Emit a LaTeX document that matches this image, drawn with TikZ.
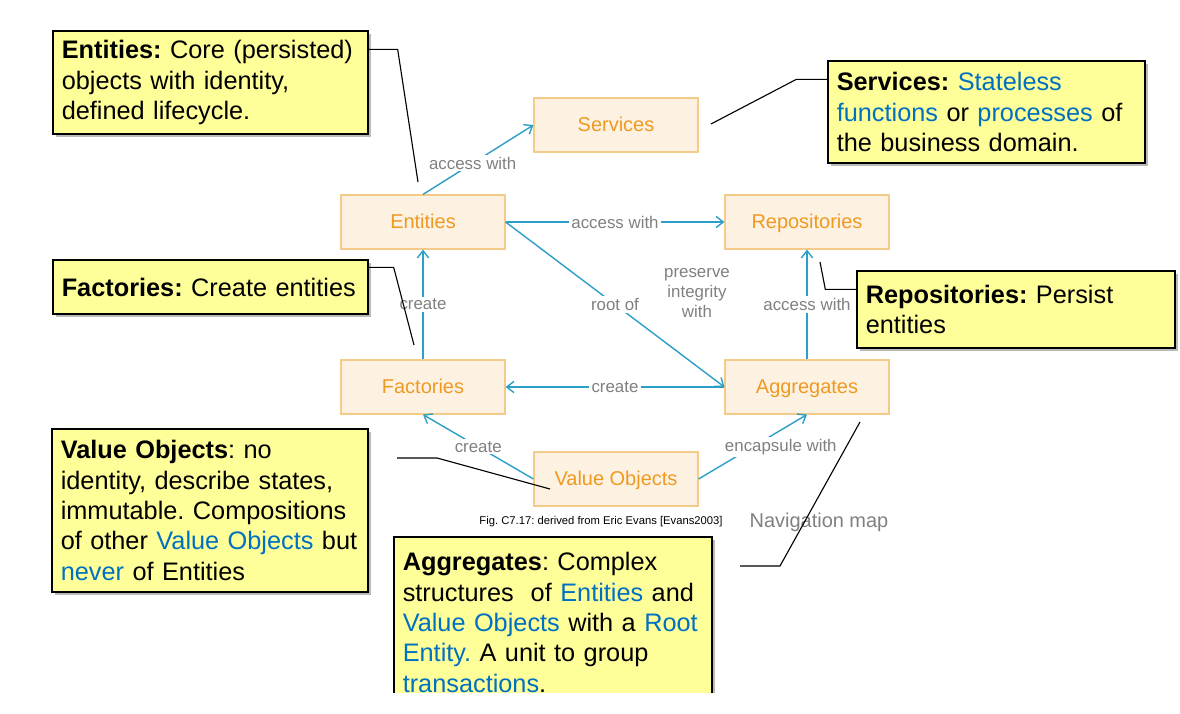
\documentclass[tikz,border=0pt]{standalone}
\usepackage{fontspec}
\setmainfont{Liberation Sans}
\usetikzlibrary{arrows.meta}
\usetikzlibrary{shadows}
\definecolor{boitefond}{HTML}{FDF1E1}
\definecolor{boitebord}{HTML}{F5CB8A}
\definecolor{boitetexte}{HTML}{EE9A22}
\definecolor{fleche}{HTML}{2A9FC8}
\definecolor{etiquette}{HTML}{808080}
\definecolor{notefond}{HTML}{FFFF99}
\definecolor{notebleu}{HTML}{0070C0}
\newcommand\bleu[1]{\textcolor{notebleu}{#1}}
\frenchspacing
\tikzset{ %Boites du diagramme
    bloc/.style={draw=boitebord,fill=boitefond,text=boitetexte,line width=0.8pt,
        text height=1.8ex,text depth=0pt,
        minimum width=4.1cm,minimum height=1.35cm,font=\fontsize{14.2}{16}\selectfont},
    lien/.style={draw=fleche,line width=1pt,-{Straight Barb[length=1.8mm,width=2.8mm]}},
    etiq/.style={fill=white,text=etiquette,inner sep=1.5pt,font=\fontsize{12}{14.2}\selectfont},
    note/.style={draw=black,fill=notefond,line width=0.9pt,align=left,inner xsep=0.22cm,inner ysep=2pt,
        text width=#1-0.44cm,minimum width=#1,font=\fontsize{18}{21.6}\selectfont,
        drop shadow={shadow xshift=0.08cm,shadow yshift=-0.08cm,fill=black!45,opacity=0.6}},
    renvoi/.style={draw=black,line width=0.8pt}
}

\begin{document}
\begin{tikzpicture}[x=0.025cm,y=-0.025cm]
    \useasboundingbox (0,0) rectangle (1180,714);
    % les six blocs
    \node[bloc] (srv) at (616,125) {Services};
    \node[bloc] (ent) at (423,222) {Entities};
    \node[bloc] (rep) at (807,222) {Repositories};
    \node[bloc] (fac) at (423,387) {Factories};
    \node[bloc] (agr) at (807,387) {Aggregates};
    \node[bloc] (vo) at (616,479) {Value Objects};
    % les liens
    \draw[lien] (ent.north) -- node[etiq,pos=0.45]{access with} (srv.west);
    \draw[lien] (ent.east) -- node[etiq]{access with} (rep.west);
    \draw[lien] (ent.east) -- node[etiq]{root of} (agr.west);
    \draw[lien] (fac.north) -- node[etiq]{create} (ent.south);
    \draw[lien] (agr.west) -- node[etiq]{create} (fac.east);
    \draw[lien] (agr.north) -- node[etiq]{access with} (rep.south);
    \draw[lien] (vo.west) -- node[etiq]{create} (fac.south);
    \draw[lien] (vo.east) -- node[etiq,xshift=0.7cm]{encapsule with} (agr.south);
    \node[text=etiquette,align=center,font=\fontsize{12}{14.2}\selectfont] (integ) at (697,293) {preserve\\integrity\\with};
    \node[font=\fontsize{8}{9.6}\selectfont] (legende) at (601,522) {Fig. C7.17: derived from Eric Evans [Evans2003]};
    \node[text=etiquette,font=\fontsize{14.2}{17}\selectfont] (navmap) at (819,522) {Navigation map};
    % les notes
    \node[note=7.875cm,minimum height=2.575cm] (entnote) at (210.5,82.5)
        {\textbf{Entities:} Core (persisted)\\objects with identity,\\defined lifecycle.};
    \node[note=7.925cm,minimum height=2.55cm] (srvnote) at (986.5,112)
        {\textbf{Services:} \bleu{Stateless}\\\bleu{functions} or \bleu{processes} of\\the business domain.};
    \node[note=7.875cm,minimum height=1.35cm] (facnote) at (210.5,287)
        {\textbf{Factories:} Create entities};
    \node[note=7.95cm,minimum height=1.925cm] (repnote) at (1016,309.5)
        {\textbf{Repositories:} Persist\\entities};
    \node[note=7.9cm,minimum height=4.075cm] (vonote) at (210,510.5)
        {\textbf{Value Objects}: no\\identity, describe states,\\immutable. Compositions\\of other \bleu{Value Objects} but\\\bleu{never} of Entities};
    \begin{scope}
        \clip (0,0) rectangle (1180,693);
        \node[note=7.95cm,minimum height=4.275cm] (agrnote) at (553,622.5)
            {\textbf{Aggregates}: Complex\\structures\ \ of \bleu{Entities} and\\\bleu{Value Objects} with a \bleu{Root}\\\bleu{Entity.} A unit to group\\\bleu{transactions}.};
    \end{scope}
    % les renvois
    \coordinate (entpt) at (418,182);
    \coordinate (srvpt) at (711,124);
    \coordinate (facpt) at (414,345);
    \coordinate (reppt) at (820,262);
    \coordinate (vodeb) at (397,458);
    \coordinate (vopt) at (550,489);
    \coordinate (agrdeb) at (740,566);
    \coordinate (agrpt) at (860,422);
    \draw[renvoi] (entnote.north east) ++(0,19) -- ++(29,0) -- (entpt);
    \draw[renvoi] (srvnote.north west) ++(0,19) -- ++(-31,0) -- (srvpt);
    \draw[renvoi] (facnote.north east) ++(0,8) -- ++(25,0) -- (facpt);
    \draw[renvoi] (repnote.north west) ++(0,19) -- ++(-31,0) -- (reppt);
    \draw[renvoi] (vodeb) -- ++(40,0) -- (vopt);
    \draw[renvoi] (agrdeb) -- ++(40,0) -- (agrpt);
\end{tikzpicture}
\end{document}
